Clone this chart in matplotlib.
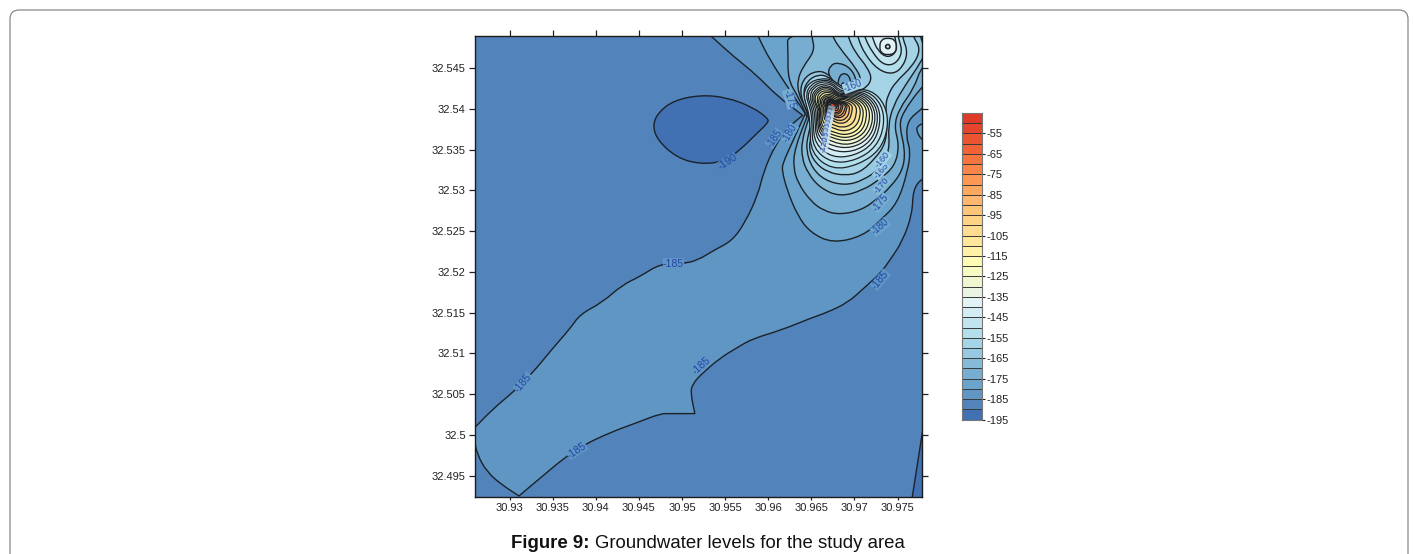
import numpy as np
import matplotlib
matplotlib.use("Agg")
import matplotlib.pyplot as plt
from matplotlib.patches import PathPatch, FancyBboxPatch
from matplotlib.path import Path
from matplotlib.transforms import IdentityTransform

plt.rcParams['font.family'] = ['Liberation Sans', 'DejaVu Sans']

# colour of the band that starts at each level (scale bar, bottom to top)
levels = list(range(-195, -45, 5))
band_colors = ['#4170b3', '#5283ba', '#5f96c4', '#6aa3cb', '#77add1', '#86bbd8',
               '#97cae2', '#a5d4e6', '#b3dfec', '#c2e4ef', '#d4ecf4', '#e2f3f5',
               '#eaf4e4', '#f0f6d0', '#f8fac4', '#fefcb4', '#fff2a6', '#fee79a',
               '#fedd90', '#fed384', '#fdc578', '#fdb76e', '#fda85f', '#fc9853',
               '#f98648', '#f6743e', '#f16336', '#ec5431', '#e5452c', '#dd3a28']
bar_ticks = list(range(-195, -45, 10))

x_ticks = [30.93, 30.935, 30.94, 30.945, 30.95, 30.955, 30.96, 30.965, 30.97, 30.975]
y_ticks = [32.495, 32.5, 32.505, 32.51, 32.515, 32.52, 32.525, 32.53, 32.535, 32.54, 32.545]
x_tick_labels = ['30.93', '30.935', '30.94', '30.945', '30.95', '30.955', '30.96', '30.965', '30.97', '30.975']
y_tick_labels = ['32.495', '32.5', '32.505', '32.51', '32.515', '32.52', '32.525', '32.53', '32.535', '32.54', '32.545']

# contours, lon / lat. repeated point = sharp corner
c185_lon = [30.9254, 30.9254, 30.9259, 30.9281, 30.9306, 30.9326, 30.9350, 30.9370, 30.9382, 30.9407, 30.9431,
            30.9451, 30.9475, 30.9501, 30.9518, 30.9538, 30.9558, 30.9573, 30.9588, 30.9595, 30.9608, 30.9623,
            30.9640, 30.9640, 30.9610, 30.9587, 30.9559, 30.9534, 30.9527, 30.9788, 30.9788, 30.9777, 30.9768,
            30.9767, 30.9756, 30.9741, 30.9730, 30.9710, 30.9692, 30.9668, 30.9649, 30.9614, 30.9582, 30.9564,
            30.9544, 30.9523, 30.9512, 30.9510, 30.9515, 30.9515, 30.9486, 30.9475, 30.9448, 30.9417, 30.9385,
            30.9364, 30.9339, 30.9311, 30.9311, 30.9292, 30.9274, 30.9262, 30.9259]
c185_lat = [32.5003, 32.5003, 32.5008, 32.5032, 32.5054, 32.5075, 32.5106, 32.5130, 32.5148, 32.5162, 32.5184,
            32.5194, 32.5210, 32.5210, 32.5214, 32.5227, 32.5238, 32.5260, 32.5294, 32.5324, 32.5355, 32.5377,
            32.5392, 32.5392, 32.5416, 32.5441, 32.5465, 32.5489, 32.5495, 32.5502, 32.5318, 32.5314, 32.5300,
            32.5271, 32.5238, 32.5214, 32.5198, 32.5179, 32.5162, 32.5150, 32.5143, 32.5128, 32.5118, 32.5107,
            32.5094, 32.5075, 32.5062, 32.5051, 32.5026, 32.5026, 32.5026, 32.5026, 32.5015, 32.5003, 32.4987,
            32.4972, 32.4950, 32.4925, 32.4925, 32.4938, 32.4954, 32.4977, 32.4997]

c190_lon = [30.9600, 30.9582, 30.9552, 30.9521, 30.9490, 30.9472, 30.9466, 30.9472, 30.9494, 30.9521, 30.9548,
            30.9567, 30.9587, 30.9600]
c190_lat = [32.5388, 32.5402, 32.5414, 32.5417, 32.5410, 32.5395, 32.5379, 32.5361, 32.5340, 32.5332, 32.5335,
            32.5349, 32.5370, 32.5383]
corner190_lon = [30.9780, 30.9780, 30.9766, 30.9766, 30.9795, 30.9795, 30.9795, 30.9795]
corner190_lat = [32.5011, 32.5011, 32.4916, 32.4916, 32.4916, 32.4916, 32.5011, 32.5011]

c180_lon = [30.9586, 30.9589, 30.9602, 30.9623, 30.9637, 30.9643, 30.9643, 30.9625, 30.9617, 30.9616, 30.9622,
            30.9634, 30.9649, 30.9675, 30.9710, 30.9730, 30.9750, 30.9762, 30.9765, 30.9760, 30.9762, 30.9777,
            30.9788, 30.9788]
c180_lat = [32.5496, 32.5487, 32.5460, 32.5426, 32.5404, 32.5394, 32.5394, 32.5352, 32.5333, 32.5324, 32.5300,
            32.5269, 32.5248, 32.5235, 32.5244, 32.5263, 32.5284, 32.5324, 32.5349, 32.5365, 32.5386, 32.5399,
            32.5410, 32.5502]

c175_lon = [30.9622, 30.9623, 30.9623, 30.9634, 30.9640, 30.9645, 30.9645, 30.9631, 30.9629, 30.9635, 30.9649,
            30.9664, 30.9683, 30.9709, 30.9727, 30.9741, 30.9756, 30.9759, 30.9752, 30.9756, 30.9777, 30.9788,
            30.9788]
c175_lat = [32.5496, 32.5469, 32.5436, 32.5416, 32.5402, 32.5390, 32.5390, 32.5352, 32.5328, 32.5308, 32.5287,
            32.5275, 32.5270, 32.5276, 32.5290, 32.5303, 32.5324, 32.5349, 32.5379, 32.5395, 32.5426, 32.5435,
            32.5502]

c170_lon = [30.9650, 30.9651, 30.9654, 30.9640, 30.9634, 30.9635, 30.9643, 30.9647, 30.9647, 30.9639, 30.9639,
            30.9646, 30.9660, 30.9683, 30.9710, 30.9730, 30.9747, 30.9752, 30.9746, 30.9752, 30.9769, 30.9777,
            30.9788, 30.9788]
c170_lat = [32.5496, 32.5487, 32.5471, 32.5451, 32.5435, 32.5419, 32.5402, 32.5388, 32.5388, 32.5361, 32.5340,
            32.5321, 32.5303, 32.5292, 32.5300, 32.5314, 32.5330, 32.5355, 32.5379, 32.5400, 32.5425, 32.5450,
            32.5459, 32.5502]

c165_lon = [30.9674, 30.9675, 30.9687, 30.9701, 30.9709, 30.9698, 30.9689, 30.9681, 30.9669, 30.9658, 30.9643,
            30.9636, 30.9644, 30.9651, 30.9651, 30.9646, 30.9644, 30.9651, 30.9666, 30.9689, 30.9710, 30.9730,
            30.9741, 30.9739, 30.9745, 30.9759, 30.9777, 30.9783, 30.9776, 30.9776]
c165_lat = [32.5496, 32.5487, 32.5469, 32.5451, 32.5435, 32.5426, 32.5421, 32.5432, 32.5443, 32.5447, 32.5440,
            32.5422, 32.5398, 32.5386, 32.5386, 32.5367, 32.5349, 32.5327, 32.5312, 32.5306, 32.5312, 32.5327,
            32.5349, 32.5379, 32.5404, 32.5429, 32.5457, 32.5471, 32.5489, 32.5496]

c160_lon = [30.9692, 30.9693, 30.9701, 30.9715, 30.9721, 30.9709, 30.9695, 30.9683, 30.9669, 30.9658, 30.9646,
            30.9640, 30.9647, 30.9653, 30.9653, 30.9650, 30.9647, 30.9654, 30.9669, 30.9689, 30.9707, 30.9724,
            30.9736, 30.9738, 30.9736, 30.9739, 30.9747, 30.9768, 30.9777, 30.9768, 30.9767]
c160_lat = [32.5496, 32.5487, 32.5469, 32.5451, 32.5435, 32.5422, 32.5419, 32.5429, 32.5440, 32.5442, 32.5435,
            32.5420, 32.5398, 32.5388, 32.5388, 32.5367, 32.5351, 32.5334, 32.5322, 32.5318, 32.5322, 32.5339,
            32.5357, 32.5381, 32.5404, 32.5417, 32.5432, 32.5453, 32.5473, 32.5489, 32.5496]

# rising ground in the top right corner
c155_lon = [30.9703, 30.9704, 30.9712, 30.9727, 30.9744, 30.9756, 30.9762, 30.9756, 30.9755]
c155_lat = [32.5496, 32.5487, 32.5467, 32.5448, 32.5442, 32.5451, 32.5469, 32.5487, 32.5496]
c150_lon = [30.9711, 30.9712, 30.9721, 30.9733, 30.9747, 30.9756, 30.9751, 30.9750]
c150_lat = [32.5496, 32.5487, 32.5469, 32.5454, 32.5454, 32.5469, 32.5487, 32.5496]
c145_lon = [30.9719, 30.9721, 30.9727, 30.9739, 30.9750, 30.9747, 30.9746]
c145_lat = [32.5496, 32.5487, 32.5471, 32.5462, 32.5471, 32.5487, 32.5496]
c140_lon = [30.9739, 30.9747, 30.9749, 30.9747, 30.9739, 30.9731, 30.9729, 30.9731]
c140_lat = [32.5487, 32.5485, 32.5476, 32.5468, 32.5466, 32.5468, 32.5476, 32.5485]
c135_lon = [30.9739, 30.9742, 30.9739, 30.9735]
c135_lat = [32.5480, 32.5476, 32.5473, 32.5476]

# small depression above the peak
dip175_lon = [30.9669, 30.9672, 30.9680, 30.9695, 30.9703, 30.9698, 30.9689, 30.9677]
dip175_lat = [32.5443, 32.5453, 32.5457, 32.5451, 32.5435, 32.5426, 32.5422, 32.5432]
dip180_lon = [30.9680, 30.9683, 30.9693, 30.9697, 30.9689]
dip180_lat = [32.5426, 32.5443, 32.5443, 32.5429, 32.5422]
dip185_lon = [30.9684, 30.9687, 30.9689]
dip185_lat = [32.5426, 32.5434, 32.5426]

edge_lon = [30.9782, 30.9773, 30.9772, 30.9777, 30.9782]
edge_lat = [32.5383, 32.5379, 32.5373, 32.5363, 32.5361]

# closed rings round the peak: reach from the peak centre in 1e-4 deg,
# read along 16 bearings, counter clockwise from east
peak_lon = 30.9674
peak_lat = 32.5405
ring_levels = [-155, -150, -145, -140, -135, -130, -125, -120, -115, -110, -105,
               -100, -95, -90, -85, -80, -75, -70, -65, -60, -55]
ring_reach = [
    [62, 49, 27, 25, 31, 35, 38, 36, 30, 29, 36, 64, 80, 80, 79, 71],
    [58, 45, 25, 23, 29, 33, 35, 33, 27, 26, 33, 58, 72, 74, 73, 66],
    [54, 41, 23, 20, 27, 31, 32, 31, 25, 24, 31, 52, 65, 68, 68, 61],
    [51, 38, 21, 18, 25, 28, 30, 28, 23, 22, 28, 47, 57, 63, 64, 58],
    [48, 35, 19, 16, 22, 26, 27, 26, 21, 20, 26, 43, 51, 58, 60, 55],
    [45, 32, 17, 15, 20, 24, 25, 24, 19, 18, 24, 39, 46, 54, 56, 52],
    [42, 29, 15, 14, 18, 22, 23, 22, 18, 16, 22, 36, 41, 49, 52, 48],
    [39, 26, 14, 13, 16, 19, 21, 19, 16, 15, 21, 33, 37, 45, 48, 44],
    [35, 23, 13, 12, 14, 17, 18, 17, 15, 14, 19, 30, 33, 41, 44, 40],
    [32, 20, 11, 10, 12, 14, 15, 15, 13, 12, 17, 26, 28, 36, 39, 36],
    [28, 17, 9, 8, 10, 12, 13, 13, 12, 10, 14, 22, 24, 31, 34, 31],
    [24, 13, 7, 6, 8, 10, 11, 11, 10, 8, 12, 18, 19, 26, 28, 25],
    [20, 11, 6, 6, 7, 8, 10, 10, 8, 7, 11, 14, 16, 22, 24, 22],
    [18, 10, 6, 5, 6, 7, 8, 8, 7, 6, 10, 12, 13, 18, 20, 18],
    [16, 8, 5, 5, 6, 6, 7, 7, 6, 6, 8, 11, 12, 16, 17, 16],
    [13, 7, 5, 4, 5, 6, 6, 6, 6, 5, 7, 10, 10, 13, 14, 13],
    [11, 6, 4, 4, 5, 5, 6, 6, 5, 5, 6, 8, 8, 11, 12, 11],
    [8, 5, 4, 4, 4, 5, 5, 5, 5, 4, 5, 6, 6, 8, 10, 8],
    [7, 5, 4, 2, 4, 4, 5, 5, 4, 4, 4, 5, 5, 6, 7, 6],
    [5, 4, 2, 2, 2, 4, 4, 4, 4, 2, 4, 4, 4, 5, 5, 5],
    [4, 2, 2, 2, 2, 2, 2, 2, 2, 2, 2, 2, 2, 4, 4, 4],
]

# contour labels: text, lon, lat, angle, size
label_text = ['-185', '-185', '-185', '-185', '-185', '-190', '-185', '-180', '-175', '-160',
              '-180', '-175', '-170', '-165', '-160']
label_lon = [30.9316, 30.9490, 30.9378, 30.9523, 30.9730, 30.9553, 30.9607, 30.9625, 30.9625, 30.9698,
             30.9730, 30.9730, 30.9731, 30.9731, 30.9733]
label_lat = [32.5064, 32.5210, 32.4981, 32.5085, 32.5190, 32.5335, 32.5364, 32.5370, 32.5412, 32.5428,
             32.5255, 32.5285, 32.5306, 32.5324, 32.5338]
label_angle = [50, 0, 33, 42, 50, 33, 55, 60, -72, 20, 40, 50, 50, 50, 50]
label_size = [7.6, 7.6, 7.6, 7.6, 7.6, 7.6, 7.0, 7.0, 7.0, 7.0, 7.0, 7.0, 6.6, 6.4, 6.4]

crowd_text = ['-155', '-150', '-145', '-140', '-135', '-130', '-125', '-120']
crowd_lon = [30.9672, 30.9671, 30.9670, 30.9669, 30.9668, 30.9667, 30.9667, 30.9666]
crowd_lat = [32.5393, 32.5388, 32.5383, 32.5378, 32.5373, 32.5368, 32.5362, 32.5356]


def smooth_path(lons, lats):
    # quadratic curves through the midpoints of the read points
    pts = np.column_stack([lons, lats])
    mids = (pts + np.roll(pts, -1, axis=0)) / 2
    verts = [mids[-1]]
    codes = [Path.MOVETO]
    for p, m in zip(pts, mids):
        verts += [p, m]
        codes += [Path.CURVE3, Path.CURVE3]
    return Path(verts, codes)


def band(ax, lons, lats, level, lw=1.0, zorder=2):
    color = band_colors[levels.index(level)]
    ax.add_patch(PathPatch(smooth_path(lons, lats), facecolor=color, edgecolor='#1b2228',
                           linewidth=lw, zorder=zorder))


fig = plt.figure(figsize=(14.14, 5.54), dpi=100, facecolor='white')

fig.add_artist(FancyBboxPatch((10, -30), 1398, 574, boxstyle="round,pad=0,rounding_size=9",
                              transform=IdentityTransform(), facecolor='white',
                              edgecolor='#8a8a8a', linewidth=0.9, zorder=-1))

ax = fig.add_axes([474.5 / 1414, 1 - 496.5 / 554, 447 / 1414, 460.5 / 554])
ax.set_xlim(30.92594, 30.97778)
ax.set_ylim(32.49243, 32.54893)
ax.set_facecolor(band_colors[1])

band(ax, c185_lon, c185_lat, -185)
band(ax, c190_lon, c190_lat, -195)
band(ax, corner190_lon, corner190_lat, -195)
band(ax, c180_lon, c180_lat, -180)
band(ax, edge_lon, edge_lat, -180, zorder=2.1)
band(ax, c175_lon, c175_lat, -175)
band(ax, c170_lon, c170_lat, -170)
band(ax, c165_lon, c165_lat, -165)
band(ax, c160_lon, c160_lat, -160)
band(ax, c155_lon, c155_lat, -155)
band(ax, c150_lon, c150_lat, -150)
band(ax, c145_lon, c145_lat, -145)
band(ax, c140_lon, c140_lat, -140)
band(ax, c135_lon, c135_lat, -135, lw=1.2)
band(ax, dip175_lon, dip175_lat, -175, zorder=2.2)
band(ax, dip180_lon, dip180_lat, -180, zorder=2.2)
band(ax, dip185_lon, dip185_lat, -185, zorder=2.2)

bearings = np.deg2rad(np.arange(0, 360, 22.5))
for level, reach in zip(ring_levels, ring_reach):
    r = np.array(reach) * 1e-4
    band(ax, peak_lon + r * np.cos(bearings), peak_lat + r * np.sin(bearings), level, lw=0.9, zorder=3)

for t, lon, lat, a, size in zip(label_text, label_lon, label_lat, label_angle, label_size):
    lvl = int(t)
    ax.text(lon, lat, t, rotation=a, rotation_mode='anchor', ha='center', va='center', fontsize=size,
            color='#2347a8', zorder=5,
            bbox=dict(boxstyle='square,pad=0.02', facecolor=band_colors[levels.index(lvl)], edgecolor='none'))
for t, lon, lat in zip(crowd_text, crowd_lon, crowd_lat):
    ax.text(lon, lat, t, rotation=78, ha='center', va='center', fontsize=6, color='#2347a8', zorder=5,
            bbox=dict(boxstyle='square,pad=0.02', facecolor='#c8e2ee', edgecolor='none', alpha=0.6))

ax.set_xticks(x_ticks)
ax.set_xticklabels(x_tick_labels)
ax.set_yticks(y_ticks)
ax.set_yticklabels(y_tick_labels)
ax.tick_params(axis='y', direction='out', length=4.5, width=0.9, color='#222222',
               labelsize=8, labelcolor='#222222', right=True, pad=1.8)
ax.tick_params(axis='x', direction='out', length=2.5, width=0.9, color='#222222',
               labelsize=8, labelcolor='#222222', pad=2.5)
# top ticks are longer than the bottom ones
top = ax.secondary_xaxis('top')
top.set_xticks(x_ticks)
top.set_xticklabels([])
top.tick_params(direction='out', length=4.5, width=0.9, color='#222222')
top.spines['top'].set_visible(False)
for s in ax.spines.values():
    s.set_linewidth(1.0)
    s.set_color('#1c1c1c')
    s.set_zorder(6)

# scale bar
cax = fig.add_axes([962 / 1414, 1 - 419.5 / 554, 20 / 1414, 306.5 / 554])
cax.bar([0] * len(levels), [5] * len(levels), width=1, bottom=levels, color=band_colors,
        edgecolor='#3a3a3a', linewidth=0.7, align='center')
cax.set_xlim(-0.5, 0.5)
cax.set_ylim(-195, -45)
cax.set_xticks([])
cax.yaxis.tick_right()
cax.set_yticks(bar_ticks)
cax.set_yticklabels([str(v) for v in bar_ticks])
cax.tick_params(axis='y', direction='out', length=2.2, width=0.8, color='#222222',
                labelsize=8, labelcolor='#222222', pad=0.8)
for s in cax.spines.values():
    s.set_linewidth(0.8)
    s.set_color('#777777')

fig.text(511 / 1414, 1 - 548 / 554, 'Figure 9:', fontsize=13.4, fontweight='bold', color='#111111', va='baseline')
fig.text(595 / 1414, 1 - 548 / 554, 'Groundwater levels for the study area', fontsize=13.4, color='#111111',
         va='baseline')

fig.savefig('out.png', dpi=100)
